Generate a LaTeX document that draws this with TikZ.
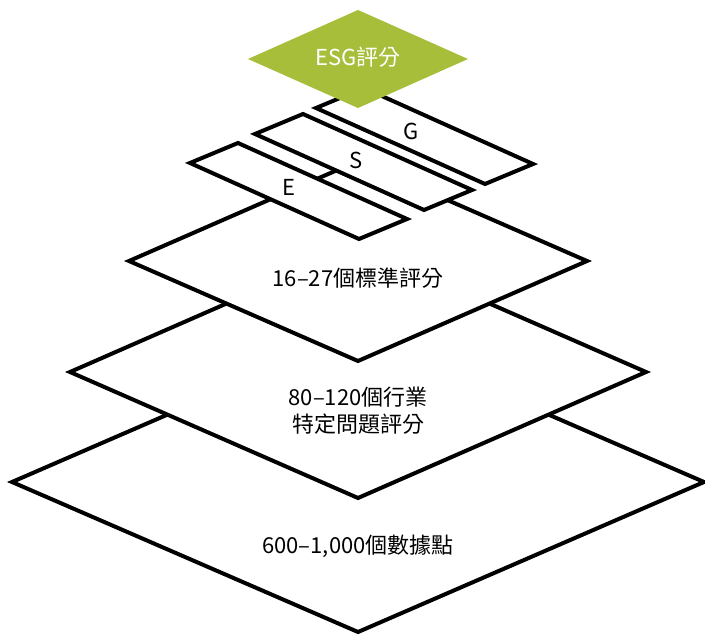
\documentclass[tikz,border=0pt]{standalone}
\usepackage{fontspec}
\setmainfont{Noto Sans CJK TC}
\usepackage{tikz}

\definecolor{esggreen}{RGB}{166,190,58}
\tikzset{
  layer/.style={line width=2pt,fill=white,line join=miter},
  lbl/.style={font=\fontsize{11}{13.5}\selectfont,align=center,inner sep=0pt}
}

\begin{document}
\begin{tikzpicture}[x=0.5pt,y=-0.5pt]
\useasboundingbox (0,0) rectangle (705,635);

% Data points
\draw[layer] (358-346,482) -- (358,482-150) -- (358+346,482) -- (358,482+150) -- cycle;
% Industry specific scores
\draw[layer] (358-288,372) -- (358,372-126) -- (358+288,372) -- (358,372+126) -- cycle;
% Standard scores
\draw[layer] (358-229,261) -- (358,261-100) -- (358+229,261) -- (358,261+100) -- cycle;

% E, S, G strips
\foreach \lx/\ly in {190/163,255/134,316/108}{
\draw[layer] (\lx,\ly) -- ++(48,-20) -- ++(169,76) -- ++(-48,20) -- cycle;
}

% ESG score
\fill[esggreen] (248,59) -- (358,10) -- (468,59) -- (358,108) -- cycle;

\node[lbl,text=white] (esg) at (358,57) {ESG評分};
\node[lbl] (g) at (411,131) {G};
\node[lbl] (s) at (356,160) {S};
\node[lbl] (e) at (289,187) {E};
\node[lbl] (std) at (358,278) {16–27個標準評分};
\node[lbl] (ind) at (358,411) {80–120個行業\\特定問題評分};
\node[lbl] (data) at (358,546) {600–1,000個數據點};

\end{tikzpicture}
\end{document}
